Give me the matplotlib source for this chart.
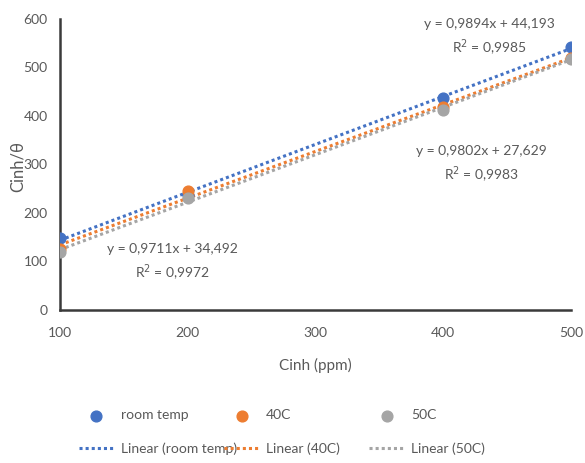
import numpy as np
import matplotlib.pyplot as plt

plt.rcParams['font.family'] = ['Lato', 'DejaVu Sans']

# data
cinh = [100, 200, 400, 500]
room_temp = [148, 238, 438, 542]
c40 = [125, 245, 418, 520]
c50 = [120, 230, 413, 518]

series = [
    ('room temp', room_temp, '#4472C4'),
    ('40C', c40, '#ED7D31'),
    ('50C', c50, '#A5A5A5'),
]

eq_text = [
    ('y = 0,9894x + 44,193\nR$^2$ = 0,9985', 436, 603),
    ('y = 0,9802x + 27,629\nR$^2$ = 0,9983', 430, 340),
    ('y = 0,9711x + 34,492\nR$^2$ = 0,9972', 188, 138),
]

txt = '#595959'
fig = plt.figure(figsize=(5.85, 4.63), dpi=100)
ax = fig.add_axes([0.1026, 0.3305, 0.8735, 0.6285])

handles = []
xs = np.array(cinh, dtype=float)
for name, ys, col in series:
    m, b = np.polyfit(xs, ys, 1)
    h1 = ax.scatter(xs, ys, s=60, color=col, zorder=3, label=name)
    h2, = ax.plot(xs, m * xs + b, ls=(0, (1, 1)), lw=2.2, color=col,
                  label='Linear (%s)' % name, zorder=2)
    handles.append((h1, h2))

for t, x, y in eq_text:
    ax.text(x, y, t, ha='center', va='top', fontsize=10, color=txt,
            linespacing=1.5)

ax.set_xlim(100, 500)
ax.set_ylim(0, 600)
ax.set_xticks([100, 200, 300, 400, 500])
ax.set_yticks(range(0, 601, 100))
ax.tick_params(length=0, labelsize=10, colors=txt)
ax.tick_params(axis='y', pad=9)
ax.tick_params(axis='x', pad=12)
for s in ['top', 'right']:
    ax.spines[s].set_visible(False)
for s in ['left', 'bottom']:
    ax.spines[s].set_linewidth(1.8)
    ax.spines[s].set_color('#3a3a3a')
ax.set_xlabel('Cinh (ppm)', fontsize=11, color=txt, labelpad=14)
fig.text(0.03, 0.641, 'Cinh/θ', rotation=90, ha='center', va='center',
         fontsize=12, color=txt)

# one small legend per series, at fixed columns like the original
for i, (h1, h2) in enumerate(handles):
    lg = fig.legend(handles=[h1, h2], loc='lower left',
                    bbox_to_anchor=(0.121 + i * 0.248, 0.0), frameon=False,
                    fontsize=10, labelcolor=txt, handlelength=2.5,
                    labelspacing=1.5, handletextpad=0.5, borderaxespad=0.2)

fig.savefig('out.png', dpi=100)
